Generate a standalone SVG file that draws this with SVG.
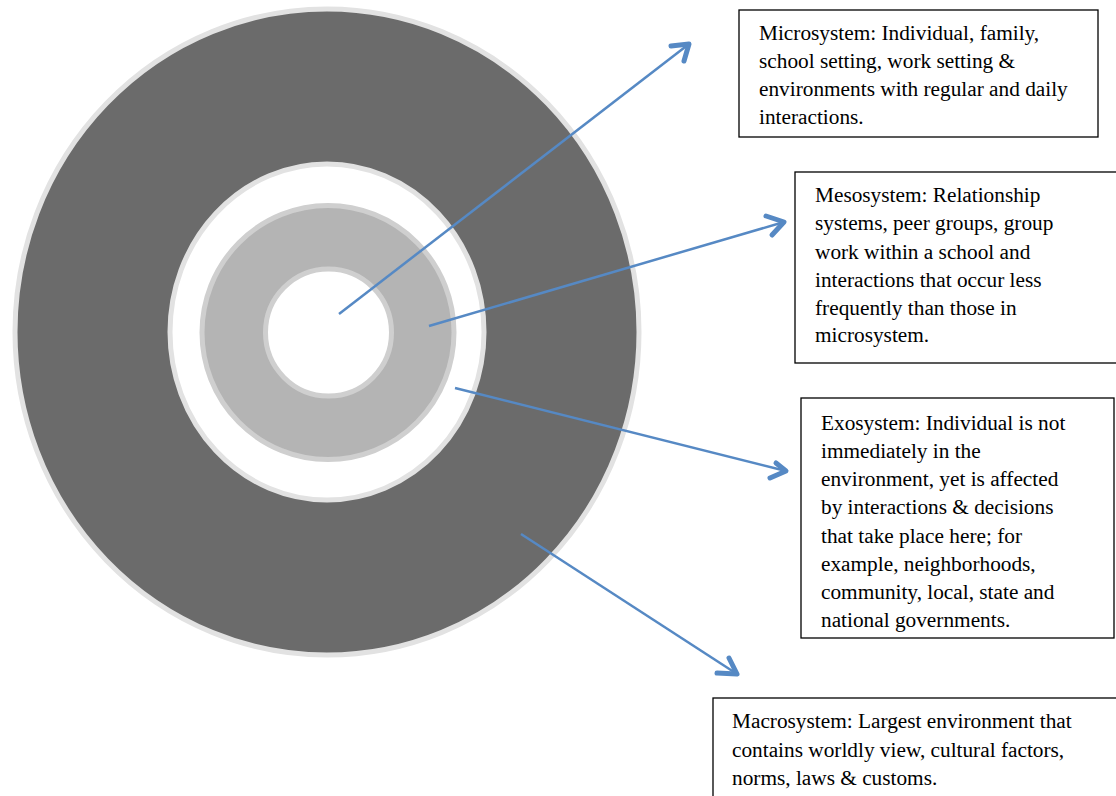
<svg xmlns="http://www.w3.org/2000/svg" width="1116" height="796" viewBox="0 0 1116 796">
<style>
.box{fill:#fff;stroke:#000;stroke-width:1.3}
.t{font-family:"Liberation Serif","Times New Roman",serif;font-size:21.3px;fill:#000}
.arr{stroke:#5689c4;stroke-width:2.5;fill:none}
.head{stroke:#5689c4;stroke-width:5;fill:none;stroke-linecap:round;stroke-linejoin:round}
</style>
<rect width="1116" height="796" fill="#fff"/>
<g id="rings">
<ellipse cx="327" cy="332" rx="312" ry="323" fill="#6b6b6b" stroke="#e2e2e2" stroke-width="5"/>
<ellipse cx="327" cy="332" rx="157" ry="168" fill="#fff" stroke="#e2e2e2" stroke-width="5"/>
<ellipse cx="328" cy="332.5" rx="126" ry="127" fill="#b4b4b4" stroke="#cfcfcf" stroke-width="5"/>
<ellipse cx="328.5" cy="332.5" rx="63" ry="63.5" fill="#fff" stroke="#cfcfcf" stroke-width="5"/>
</g>
<g id="connectors">
<line class="arr" x1="339" y1="314" x2="689" y2="44"/>
<line class="arr" x1="429" y1="326" x2="784" y2="222"/>
<line class="arr" x1="455" y1="388" x2="786" y2="471"/>
<line class="arr" x1="521" y1="534" x2="737" y2="674"/>
</g>
<g id="box-micro">
<rect class="box" x="739" y="10" width="359" height="127"/>
<text class="t" x="759" y="40">Microsystem: Individual, family,</text>
<text class="t" x="759" y="68">school setting, work setting &amp;</text>
<text class="t" x="759" y="96">environments with regular and daily</text>
<text class="t" x="759" y="124">interactions.</text>
</g>
<g id="box-meso">
<rect class="box" x="795" y="172" width="330" height="191"/>
<text class="t" x="815" y="202">Mesosystem: Relationship</text>
<text class="t" x="815" y="230">systems, peer groups, group</text>
<text class="t" x="815" y="259">work within a school and</text>
<text class="t" x="815" y="287">interactions that occur less</text>
<text class="t" x="815" y="315">frequently than those in</text>
<text class="t" x="815" y="342">microsystem.</text>
</g>
<g id="box-exo">
<rect class="box" x="801" y="398" width="313" height="240"/>
<text class="t" x="821" y="430">Exosystem: Individual is not</text>
<text class="t" x="821" y="458">immediately in the</text>
<text class="t" x="821" y="486">environment, yet is affected</text>
<text class="t" x="821" y="514">by interactions &amp; decisions</text>
<text class="t" x="821" y="543">that take place here; for</text>
<text class="t" x="821" y="571">example, neighborhoods,</text>
<text class="t" x="821" y="599">community, local, state and</text>
<text class="t" x="821" y="627">national governments.</text>
</g>
<g id="box-macro">
<rect class="box" x="713" y="698" width="420" height="120"/>
<text class="t" x="732" y="728">Macrosystem: Largest environment that</text>
<text class="t" x="732" y="757">contains worldly view, cultural factors,</text>
<text class="t" x="732" y="785">norms, laws &amp; customs.</text>
</g>
<g id="arrowheads">
<polyline class="head" points="671,46 689,44 684,61"/>
<polyline class="head" points="766,216 784,222 772,235"/>
<polyline class="head" points="776,463 786,471 770,478"/>
<polyline class="head" points="729,658 737,674 717,673"/>
</g>
</svg>
